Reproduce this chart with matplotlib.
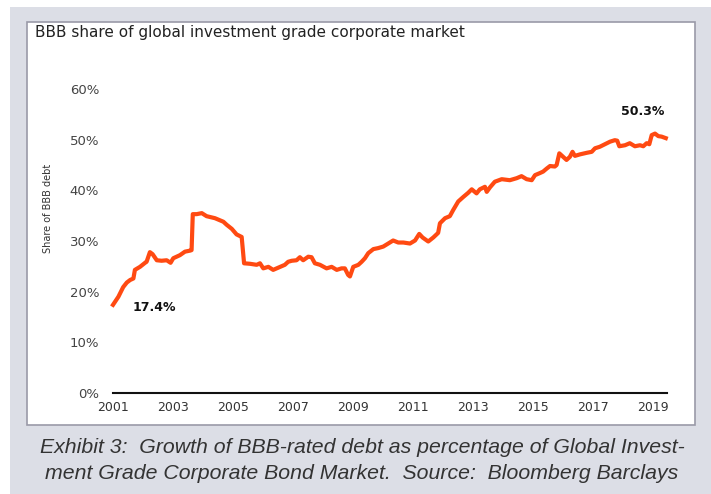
import matplotlib.pyplot as plt
from matplotlib.patches import Rectangle
from matplotlib.ticker import FuncFormatter

# BBB share of global IG corporate market (%)
dates = [2001.0, 2001.18, 2001.34, 2001.46, 2001.57, 2001.68, 2001.73, 2001.9,
         2002.07, 2002.12, 2002.23, 2002.32, 2002.46, 2002.62, 2002.79, 2002.92,
         2003.01, 2003.23, 2003.4, 2003.57, 2003.62, 2003.66, 2003.79, 2003.96,
         2004.12, 2004.4, 2004.68, 2004.79, 2004.96, 2005.12, 2005.29, 2005.32,
         2005.37, 2005.57, 2005.79, 2005.9, 2006.01, 2006.18, 2006.34, 2006.57,
         2006.73, 2006.84, 2006.96, 2007.12, 2007.23, 2007.34, 2007.51, 2007.62,
         2007.73, 2007.9, 2008.12, 2008.29, 2008.46, 2008.62, 2008.73, 2008.84,
         2008.9, 2009.01, 2009.18, 2009.29, 2009.4, 2009.51, 2009.68, 2009.84,
         2010.01, 2010.23, 2010.34, 2010.51, 2010.68, 2010.9, 2011.07, 2011.21,
         2011.32, 2011.51, 2011.68, 2011.84, 2011.9, 2012.07, 2012.23, 2012.34,
         2012.51, 2012.68, 2012.84, 2012.96, 2013.12, 2013.23, 2013.4, 2013.46,
         2013.57, 2013.73, 2013.96, 2014.23, 2014.46, 2014.62, 2014.79, 2014.96,
         2015.07, 2015.23, 2015.34, 2015.46, 2015.57, 2015.73, 2015.79, 2015.88,
         2016.01, 2016.12, 2016.23, 2016.32, 2016.4, 2016.57, 2016.79, 2016.96,
         2017.07, 2017.23, 2017.4, 2017.57, 2017.73, 2017.81, 2017.88, 2018.07,
         2018.23, 2018.4, 2018.57, 2018.68, 2018.79, 2018.88, 2018.96, 2019.07,
         2019.18, 2019.29, 2019.43]
share = [17.4, 19.0, 20.9, 21.8, 22.3, 22.6, 24.3, 24.9,
         25.7, 25.9, 27.8, 27.4, 26.2, 26.1, 26.2, 25.7,
         26.6, 27.2, 27.9, 28.1, 28.2, 35.3, 35.3, 35.5,
         34.9, 34.5, 33.8, 33.2, 32.4, 31.3, 30.8, 28.9,
         25.6, 25.5, 25.3, 25.6, 24.6, 24.9, 24.3, 24.9,
         25.3, 25.9, 26.1, 26.2, 26.8, 26.2, 26.9, 26.8,
         25.6, 25.3, 24.6, 24.9, 24.3, 24.6, 24.6, 23.3,
         23.0, 24.9, 25.3, 25.9, 26.6, 27.6, 28.4, 28.6,
         28.9, 29.7, 30.1, 29.7, 29.7, 29.5, 30.1, 31.4,
         30.7, 29.9, 30.7, 31.6, 33.5, 34.5, 34.9, 36.1,
         37.8, 38.7, 39.5, 40.2, 39.4, 40.2, 40.7, 39.7,
         40.6, 41.7, 42.2, 42.0, 42.4, 42.8, 42.2, 42.0,
         43.0, 43.4, 43.7, 44.3, 44.8, 44.7, 45.0, 47.3,
         46.6, 46.0, 46.6, 47.6, 46.8, 47.1, 47.4, 47.6,
         48.3, 48.6, 49.1, 49.6, 49.9, 49.8, 48.7, 48.9,
         49.3, 48.7, 48.9, 48.7, 49.3, 49.1, 50.9, 51.2,
         50.7, 50.6, 50.3]
year_ticks = [2001, 2003, 2005, 2007, 2009, 2011, 2013, 2015, 2017, 2019]
pct_ticks = [0, 10, 20, 30, 40, 50, 60]
first_label = "17.4%"
last_label = "50.3%"

W, H = 711, 494
fig = plt.figure(figsize=(W / 100, H / 100), dpi=100, facecolor='white')

# grey backdrop and white panel (kept behind the axes)
fig.patches.append(Rectangle((10 / W, 0), 1, 1 - 7 / H, transform=fig.transFigure,
                             facecolor='#dcdee6', edgecolor='none', zorder=-2))
fig.patches.append(Rectangle((27 / W, 1 - 425 / H), (695 - 27) / W, (425 - 22) / H,
                             transform=fig.transFigure, facecolor='white',
                             edgecolor='#9a9aa8', linewidth=1.2, zorder=-1))

ax = fig.add_axes([113 / W, 1 - 393 / H, (667 - 113) / W, (393 - 89) / H])
ax.set_zorder(2)
ax.set_facecolor('none')
ax.plot(dates, share, color='#ff4a12', linewidth=3.0, solid_joinstyle='round',
        clip_on=False)

ax.set_xlim(2001, 2019.47)
ax.set_ylim(0, 60)
ax.set_xticks(year_ticks)
ax.set_yticks(pct_ticks)
ax.yaxis.set_major_formatter(FuncFormatter(lambda v, p: f"{v:.0f}%"))
for s in ['top', 'right', 'left']:
    ax.spines[s].set_visible(False)
ax.spines['bottom'].set_linewidth(1.5)
ax.spines['bottom'].set_color('#111111')
ax.tick_params(axis='y', length=0, pad=10, labelsize=9.5, labelcolor='#444444')
ax.tick_params(axis='x', length=0, pad=6, labelsize=9, labelcolor='#333333')

ax.text(2002.37, 16.8, first_label, fontsize=9, fontweight='bold', color='#111111',
        ha='center', va='center')
ax.text(2018.67, 55.5, last_label, fontsize=9, fontweight='bold', color='#111111',
        ha='center', va='center')

fig.text(48 / W, 1 - 208 / H, "Share of BBB debt", rotation=90, fontsize=7,
         color='#333333', ha='center', va='center')
fig.text(35 / W, 1 - 32 / H, "BBB share of global investment grade corporate market",
         fontsize=11, color='#222222', ha='left', va='center')

fig.text(362 / W, 1 - 447 / H,
         "Exhibit 3:  Growth of BBB-rated debt as percentage of Global Invest-",
         fontsize=15.3, style='italic', family='Liberation Sans', color='#333333',
         ha='center', va='center')
fig.text(362 / W, 1 - 473 / H,
         "ment Grade Corporate Bond Market.  Source:  Bloomberg Barclays",
         fontsize=15.3, style='italic', family='Liberation Sans', color='#333333',
         ha='center', va='center')

fig.savefig('out.png', dpi=100, facecolor=fig.get_facecolor())
